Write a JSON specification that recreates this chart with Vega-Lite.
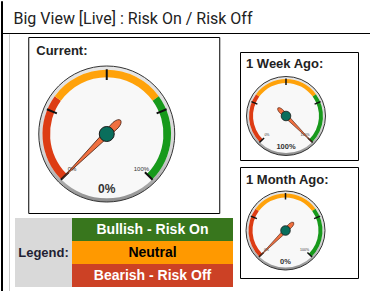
{
  "$schema": "https://vega.github.io/schema/vega-lite/v6.json",
  "padding": 0,
  "background": "white",
  "bounds": "flush",
  "spacing": 0,
  "datasets": {
    "zones": [{"from": 0, "to": 0.3, "zone": "Bearish"}, {"from": 0.3, "to": 0.7, "zone": "Neutral"}, {"from": 0.7, "to": 1, "zone": "Bullish"}],
    "ticks": [{"t": 0}, {"t": 0.25}, {"t": 0.5}, {"t": 0.75}, {"t": 1}],
    "legend": [{"label": "Bullish - Risk On"}, {"label": "Neutral"}, {"label": "Bearish - Risk Off"}]
  },
  "hconcat": [
    {"width": 0.01, "height": 290, "view": {"stroke": "#000000", "strokeWidth": 1}, "data": {"values": []}, "mark": "point"},
    {
      "bounds": "flush",
      "spacing": 0,
      "vconcat": [
        {
          "width": 369, "height": 32,
          "view": {"stroke": null},
          "data": {"values": [{"heading": "Big View [Live] : Risk On / Risk Off"}]},
          "mark": {"type": "text", "align": "left", "baseline": "alphabetic", "font": "Roboto", "fontSize": 16, "color": "#222222", "xOffset": -173, "yOffset": 6.5},
          "encoding": {"text": {"field": "heading"}}
        },
        {
          "bounds": "flush",
          "spacing": 0,
          "hconcat": [
            {"width": 7, "height": 1, "view": {"stroke": null}, "data": {"values": []}, "mark": "point"},
            {
              "bounds": "flush",
              "spacing": 0,
              "vconcat": [
                {"width": 362, "height": 0.01, "view": {"stroke": "#cccccc", "strokeWidth": 1}, "data": {"values": []}, "mark": "point"},
                {
                  "bounds": "flush",
                  "spacing": 0,
                  "hconcat": [
                    {"width": 0.01, "height": 258, "view": {"stroke": "#cccccc", "strokeWidth": 1}, "data": {"values": []}, "mark": "point"},
                    {"width": 4.5, "height": 1, "view": {"stroke": null}, "data": {"values": []}, "mark": "point"},
                    {
                      "bounds": "flush",
                      "spacing": 0,
                      "vconcat": [
                        {"width": 1, "height": 2.5, "view": {"stroke": null}, "data": {"values": []}, "mark": "point"},
                        {
                          "spacing": 6,
                          "hconcat": [
                            {
                              "vconcat": [
                                {
                                  "width": 191, "height": 176,
                                  "view": {"stroke": "#000000", "strokeWidth": 1},
                                  "data": {"values": [{"panel": "Current:", "value": 0}]},
                                  "layer": [
                                    {"mark": {"type": "text", "align": "left", "baseline": "alphabetic", "fontSize": 13, "fontWeight": "bold", "color": "#222222", "xOffset": -87.5, "yOffset": -70},
                                     "encoding": {"text": {"field": "panel"}}},
                                    {"mark": {"type": "arc", "theta": 0, "theta2": 6.2832, "radius": 68, "xOffset": -17, "yOffset": 9, "stroke": "#333333", "strokeWidth": 1, "fill": {"gradient": "linear", "x1": 0, "y1": 0, "x2": 0, "y2": 1, "stops": [{"offset": 0, "color": "#e6e6e6"}, {"offset": 0.65, "color": "#d4d4d4"}, {"offset": 1, "color": "#8e8e8e"}]}}},
                                    {"mark": {"type": "arc", "theta": 0, "theta2": 6.2832, "radius": 64.3, "xOffset": -17, "yOffset": 9, "fill": "#f8f8f8"}},
                                    {"data": {"name": "zones"}, "mark": {"type": "arc", "radius": 64.3, "radius2": 56.7, "xOffset": -17, "yOffset": 9},
                                     "encoding": {"theta": {"field": "from", "type": "quantitative", "stack": null, "scale": {"domain": [0, 1], "range": [-2.3562, 2.3562]}}, "theta2": {"field": "to"},
                                                  "color": {"field": "zone", "type": "nominal", "legend": null, "scale": {"domain": ["Bearish", "Neutral", "Bullish"], "range": ["#dd3c14", "#ffa20a", "#17991b"]}}}},
                                    {"data": {"name": "ticks"}, "mark": {"type": "arc", "radius": 64.8, "radius2": 54, "stroke": "#111111", "fill": "#111111", "strokeWidth": 2, "xOffset": -17, "yOffset": 9},
                                     "encoding": {"theta": {"field": "t", "type": "quantitative", "stack": null, "scale": {"domain": [0, 1], "range": [-2.3562, 2.3562]}}, "theta2": {"field": "t"}}},
                                    {"data": {"name": "ticks"}, "transform": [{"filter": "datum.t == 0 || datum.t == 1"}],
                                     "mark": {"type": "text", "radius": 49, "fontSize": 6, "color": "#333333", "baseline": "middle", "xOffset": -17, "yOffset": 9},
                                     "encoding": {"theta": {"field": "t", "type": "quantitative", "stack": null, "scale": {"domain": [0, 1], "range": [-2.3562, 2.3562]}}, "text": {"field": "t", "type": "quantitative", "format": ".0%"}}},
                                    {"mark": {"type": "point", "shape": "M0,-1 L0.05,-0.02 L0.06,0.2 Q0.05,0.3 0,0.31 Q-0.05,0.3 -0.06,0.2 L-0.05,-0.02 Z", "size": 15876, "filled": true, "color": "#f07040", "fill": "#f07040", "stroke": "#4a2010", "strokeWidth": 0.8, "opacity": 1, "xOffset": -17, "yOffset": 9},
                                     "encoding": {"angle": {"field": "value", "type": "quantitative", "scale": {"domain": [0, 1], "range": [-135, 135]}}}},
                                    {"mark": {"type": "arc", "theta": 0, "theta2": 6.2832, "radius": 7.5, "fill": "#0a6e5c", "stroke": "#1a1a1a", "strokeWidth": 1, "xOffset": -17, "yOffset": 9}},
                                    {"mark": {"type": "text", "fontSize": 12, "fontWeight": "bold", "color": "#333333", "baseline": "middle", "xOffset": -17, "yOffset": 64},
                                     "encoding": {"text": {"field": "value", "type": "quantitative", "format": ".0%"}}}
                                  ]
                                },
                                {
                                  "hconcat": [
                                    {"width": 57, "height": 69, "view": {"stroke": null, "fill": "#d9d9d9"},
                                     "data": {"values": [{"caption": "Legend:"}]},
                                     "mark": {"type": "text", "fontSize": 13, "fontWeight": "bold", "color": "#1f1f33"},
                                     "encoding": {"text": {"field": "caption"}}},
                                    {"width": 161, "height": 69, "view": {"stroke": null},
                                     "data": {"name": "legend"},
                                     "encoding": {"y": {"field": "label", "type": "nominal", "sort": null, "axis": null, "scale": {"paddingInner": 0, "paddingOuter": 0}}},
                                     "layer": [
                                       {"mark": {"type": "bar"},
                                        "encoding": {"fill": {"field": "label", "type": "nominal", "legend": null, "scale": {"domain": ["Bullish - Risk On", "Neutral", "Bearish - Risk Off"], "range": ["#38761d", "#ff9900", "#cc4125"]}}}},
                                       {"mark": {"type": "text", "fontSize": 14, "fontWeight": "bold"},
                                        "encoding": {"text": {"field": "label"}, "color": {"condition": {"test": "datum.label === 'Neutral'", "value": "#000000"}, "value": "#ffffff"}}}
                                     ]}
                                  ],
                                  "spacing": 0
                                }
                              ],
                              "spacing": 4,
                              "center": true
                            },
                            {
                              "vconcat": [
                                {"width": 118, "height": 9, "view": {"stroke": null, "fill": "#ffffff"}, "data": {"values": []}, "mark": "point"},
                                {
                                  "width": 118, "height": 108,
                                  "view": {"stroke": "#000000", "strokeWidth": 1},
                                  "data": {"values": [{"panel": "1 Week Ago:", "value": 1}]},
                                  "layer": [
                                    {"mark": {"type": "text", "align": "left", "baseline": "alphabetic", "fontSize": 13, "fontWeight": "bold", "color": "#222222", "xOffset": -53, "yOffset": -37.7},
                                     "encoding": {"text": {"field": "panel"}}},
                                    {"mark": {"type": "arc", "theta": 0, "theta2": 6.2832, "radius": 39.5, "xOffset": -13, "yOffset": 10, "stroke": "#333333", "strokeWidth": 1, "fill": {"gradient": "linear", "x1": 0, "y1": 0, "x2": 0, "y2": 1, "stops": [{"offset": 0, "color": "#e6e6e6"}, {"offset": 0.65, "color": "#d4d4d4"}, {"offset": 1, "color": "#8e8e8e"}]}}},
                                    {"mark": {"type": "arc", "theta": 0, "theta2": 6.2832, "radius": 37, "xOffset": -13, "yOffset": 10, "fill": "#f8f8f8"}},
                                    {"data": {"name": "zones"}, "mark": {"type": "arc", "radius": 37, "radius2": 33, "xOffset": -13, "yOffset": 10},
                                     "encoding": {"theta": {"field": "from", "type": "quantitative", "stack": null, "scale": {"domain": [0, 1], "range": [-2.3562, 2.3562]}}, "theta2": {"field": "to"},
                                                  "color": {"field": "zone", "type": "nominal", "legend": null, "scale": {"domain": ["Bearish", "Neutral", "Bullish"], "range": ["#dd3c14", "#ffa20a", "#17991b"]}}}},
                                    {"data": {"name": "ticks"}, "mark": {"type": "arc", "radius": 37.5, "radius2": 31, "stroke": "#111111", "fill": "#111111", "strokeWidth": 1.5, "xOffset": -13, "yOffset": 10},
                                     "encoding": {"theta": {"field": "t", "type": "quantitative", "stack": null, "scale": {"domain": [0, 1], "range": [-2.3562, 2.3562]}}, "theta2": {"field": "t"}}},
                                    {"data": {"name": "ticks"}, "transform": [{"filter": "datum.t == 0 || datum.t == 1"}],
                                     "mark": {"type": "text", "radius": 27, "fontSize": 3.5, "color": "#333333", "baseline": "middle", "xOffset": -13, "yOffset": 10},
                                     "encoding": {"theta": {"field": "t", "type": "quantitative", "stack": null, "scale": {"domain": [0, 1], "range": [-2.3562, 2.3562]}}, "text": {"field": "t", "type": "quantitative", "format": ".0%"}}},
                                    {"mark": {"type": "point", "shape": "M0,-1 L0.05,-0.02 L0.06,0.2 Q0.05,0.3 0,0.31 Q-0.05,0.3 -0.06,0.2 L-0.05,-0.02 Z", "size": 5476, "filled": true, "color": "#f07040", "fill": "#f07040", "stroke": "#4a2010", "strokeWidth": 0.6, "opacity": 1, "xOffset": -13, "yOffset": 10},
                                     "encoding": {"angle": {"field": "value", "type": "quantitative", "scale": {"domain": [0, 1], "range": [-135, 135]}}}},
                                    {"mark": {"type": "arc", "theta": 0, "theta2": 6.2832, "radius": 4.8, "fill": "#0a6e5c", "stroke": "#1a1a1a", "strokeWidth": 0.8, "xOffset": -13, "yOffset": 10}},
                                    {"mark": {"type": "text", "fontSize": 7.5, "fontWeight": "bold", "color": "#333333", "baseline": "middle", "xOffset": -13, "yOffset": 41},
                                     "encoding": {"text": {"field": "value", "type": "quantitative", "format": ".0%"}}}
                                  ]
                                },
                                {
                                  "width": 118, "height": 111,
                                  "view": {"stroke": "#000000", "strokeWidth": 1},
                                  "data": {"values": [{"panel": "1 Month Ago:", "value": 0}]},
                                  "layer": [
                                    {"mark": {"type": "text", "align": "left", "baseline": "alphabetic", "fontSize": 13, "fontWeight": "bold", "color": "#222222", "xOffset": -53, "yOffset": -38.8},
                                     "encoding": {"text": {"field": "panel"}}},
                                    {"mark": {"type": "arc", "theta": 0, "theta2": 6.2832, "radius": 39.5, "xOffset": -13.5, "yOffset": 8, "stroke": "#333333", "strokeWidth": 1, "fill": {"gradient": "linear", "x1": 0, "y1": 0, "x2": 0, "y2": 1, "stops": [{"offset": 0, "color": "#e6e6e6"}, {"offset": 0.65, "color": "#d4d4d4"}, {"offset": 1, "color": "#8e8e8e"}]}}},
                                    {"mark": {"type": "arc", "theta": 0, "theta2": 6.2832, "radius": 37, "xOffset": -13.5, "yOffset": 8, "fill": "#f8f8f8"}},
                                    {"data": {"name": "zones"}, "mark": {"type": "arc", "radius": 37, "radius2": 33, "xOffset": -13.5, "yOffset": 8},
                                     "encoding": {"theta": {"field": "from", "type": "quantitative", "stack": null, "scale": {"domain": [0, 1], "range": [-2.3562, 2.3562]}}, "theta2": {"field": "to"},
                                                  "color": {"field": "zone", "type": "nominal", "legend": null, "scale": {"domain": ["Bearish", "Neutral", "Bullish"], "range": ["#dd3c14", "#ffa20a", "#17991b"]}}}},
                                    {"data": {"name": "ticks"}, "mark": {"type": "arc", "radius": 37.5, "radius2": 31, "stroke": "#111111", "fill": "#111111", "strokeWidth": 1.5, "xOffset": -13.5, "yOffset": 8},
                                     "encoding": {"theta": {"field": "t", "type": "quantitative", "stack": null, "scale": {"domain": [0, 1], "range": [-2.3562, 2.3562]}}, "theta2": {"field": "t"}}},
                                    {"data": {"name": "ticks"}, "transform": [{"filter": "datum.t == 0 || datum.t == 1"}],
                                     "mark": {"type": "text", "radius": 27, "fontSize": 3.5, "color": "#333333", "baseline": "middle", "xOffset": -13.5, "yOffset": 8},
                                     "encoding": {"theta": {"field": "t", "type": "quantitative", "stack": null, "scale": {"domain": [0, 1], "range": [-2.3562, 2.3562]}}, "text": {"field": "t", "type": "quantitative", "format": ".0%"}}},
                                    {"mark": {"type": "point", "shape": "M0,-1 L0.05,-0.02 L0.06,0.2 Q0.05,0.3 0,0.31 Q-0.05,0.3 -0.06,0.2 L-0.05,-0.02 Z", "size": 5476, "filled": true, "color": "#f07040", "fill": "#f07040", "stroke": "#4a2010", "strokeWidth": 0.6, "opacity": 1, "xOffset": -13.5, "yOffset": 8},
                                     "encoding": {"angle": {"field": "value", "type": "quantitative", "scale": {"domain": [0, 1], "range": [-135, 135]}}}},
                                    {"mark": {"type": "arc", "theta": 0, "theta2": 6.2832, "radius": 4.8, "fill": "#0a6e5c", "stroke": "#1a1a1a", "strokeWidth": 0.8, "xOffset": -13.5, "yOffset": 8}},
                                    {"mark": {"type": "text", "fontSize": 7.5, "fontWeight": "bold", "color": "#333333", "baseline": "middle", "xOffset": -13.5, "yOffset": 39.3},
                                     "encoding": {"text": {"field": "value", "type": "quantitative", "format": ".0%"}}}
                                  ]
                                }
                              ],
                              "spacing": 5
                            }
                          ]
                        }
                      ]
                    }
                  ]
                }
              ]
            }
          ]
        },
        {"width": 369, "height": 0.01, "view": {"stroke": "#000000", "strokeWidth": 1}, "data": {"values": []}, "mark": "point"}
      ]
    },
    {"width": 0.01, "height": 290, "view": {"stroke": "#000000", "strokeWidth": 1}, "data": {"values": []}, "mark": "point"}
  ],
  "config": {
    "font": "Liberation Sans",
    "view": {"stroke": "#000000", "strokeWidth": 1}
  }
}
